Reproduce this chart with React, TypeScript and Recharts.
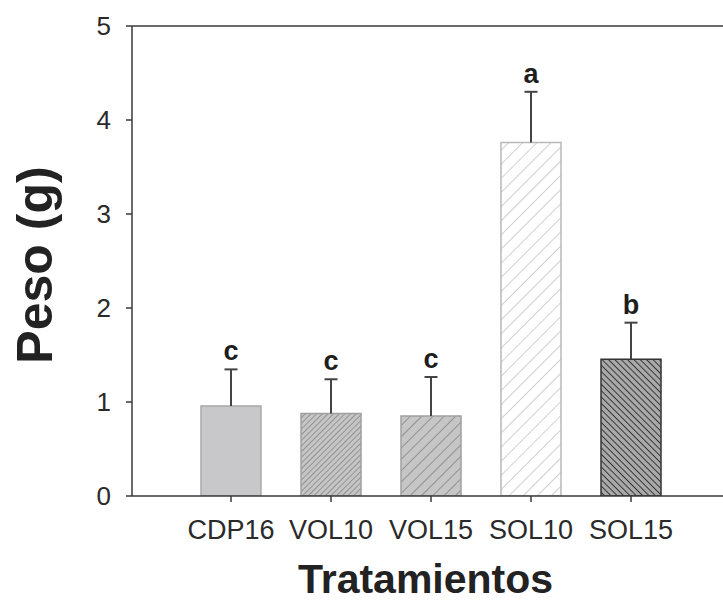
import React from 'react';
import { BarChart, Bar, XAxis, YAxis, Cell, LabelList, ReferenceLine, Label } from 'recharts';

const categories = ['CDP16', 'VOL10', 'VOL15', 'SOL10', 'SOL15'];
const pesoValues = [0.957, 0.877, 0.851, 3.76, 1.454];
const errorValues = [0.39, 0.365, 0.415, 0.54, 0.39];
const letters = ['c', 'c', 'c', 'a', 'b'];
const yTicks = [0, 1, 2, 3, 4, 5];

const fills = ['#c8c8ca', 'url(#patVol10)', 'url(#patVol15)', 'url(#patSol10)', 'url(#patSol15)'];
const strokes = ['#a9a9ab', '#a0a0a0', '#a0a0a0', '#b8b8b8', '#333333'];

const data = categories.map((c, i) => ({ name: c, peso: pesoValues[i], err: errorValues[i], letter: letters[i] }));

const FONT = '"Liberation Sans", Arial, Helvetica, sans-serif';
const AXIS = '#3a3a3a';

const ErrAndLetter = (props: any) => {
  const { x, y, width, height, index } = props;
  const d = data[index];
  if (!d) return null;
  const pxPerUnit = Math.abs(height) / d.peso;
  const cx = x + width / 2;
  const top = y - d.err * pxPerUnit;
  return (
    <g>
      <line x1={cx} y1={y} x2={cx} y2={top} stroke="#444" strokeWidth={2} />
      <line x1={cx - 6.5} y1={top} x2={cx + 6.5} y2={top} stroke="#444" strokeWidth={2} />
      <text x={cx} y={top - 9} textAnchor="middle" fontFamily={FONT} fontWeight="bold" fontSize={27} fill="#1e1e1e">
        {d.letter}
      </text>
    </g>
  );
};

const YTitle = (props: any) => {
  const vb = props.viewBox || { x: 72, y: 26, width: 60, height: 470 };
  const px = vb.x - 20;
  const py = vb.y + vb.height / 2 + 4;
  return (
    <text transform={`translate(${px},${py}) rotate(-90)`} x={0} y={0} textAnchor="middle" fontFamily={FONT} fontWeight="bold" fontSize={50} fill="#222">
      Peso (g)
    </text>
  );
};

const XTitle = (props: any) => {
  const vb = props.viewBox || { x: 132, y: 496, width: 591, height: 56 };
  const px = vb.x + vb.width / 2 - 2;
  const py = vb.y + 97;
  return (
    <text x={px} y={py} textAnchor="middle" fontFamily={FONT} fontWeight="bold" fontSize={41} fill="#222">
      Tratamientos
    </text>
  );
};

export default function App() {
  return (
    <div style={{ position: 'absolute', left: 0, top: 0, width: 723, height: 602, background: '#fff' }}>
      <svg width={0} height={0} style={{ position: 'absolute' }}>
        <defs>
          <pattern id="patVol10" width={4} height={4} patternUnits="userSpaceOnUse" patternTransform="rotate(45)">
            <rect width={4} height={4} fill="#c6c6c6" />
            <line x1={0} y1={0} x2={0} y2={4} stroke="#858585" strokeWidth={1.6} />
          </pattern>
          <pattern id="patVol15" width={8} height={8} patternUnits="userSpaceOnUse" patternTransform="rotate(45)">
            <rect width={8} height={8} fill="#c6c6c6" />
            <line x1={0} y1={0} x2={0} y2={8} stroke="#7a7a7a" strokeWidth={1.4} />
          </pattern>
          <pattern id="patSol10" width={10} height={10} patternUnits="userSpaceOnUse" patternTransform="rotate(45)">
            <rect width={10} height={10} fill="#ffffff" />
            <line x1={0} y1={0} x2={0} y2={10} stroke="#b0b0b0" strokeWidth={1.2} />
          </pattern>
          <pattern id="patSol15" width={4.5} height={4.5} patternUnits="userSpaceOnUse" patternTransform="rotate(-45)">
            <rect width={4.5} height={4.5} fill="#a8a8a8" />
            <line x1={0} y1={0} x2={0} y2={4.5} stroke="#2e2e2e" strokeWidth={1.8} />
          </pattern>
        </defs>
      </svg>
      <BarChart
        width={723}
        height={602}
        data={data}
        margin={{ top: 26, right: 0, left: 72, bottom: 50 }}
        barCategoryGap="20%"
      >
        <ReferenceLine y={5} stroke={AXIS} strokeWidth={1.5} />
        <XAxis
          dataKey="name"
          padding={{ left: 49, right: 42 }}
          height={56}
          tickSize={6}
          tickMargin={18}
          axisLine={{ stroke: AXIS, strokeWidth: 1.5 }}
          tickLine={{ stroke: AXIS, strokeWidth: 1.5 }}
          tick={{ fontFamily: FONT, fontSize: 27, fill: '#2a2a2a' }}
          interval={0}
        >
          <Label content={<XTitle />} />
        </XAxis>
        <YAxis
          domain={[0, 5]}
          ticks={yTicks}
          width={60}
          tickSize={6}
          tickMargin={15}
          axisLine={{ stroke: AXIS, strokeWidth: 1.5 }}
          tickLine={{ stroke: AXIS, strokeWidth: 1.5 }}
          tick={{ fontFamily: FONT, fontSize: 26, fill: '#2a2a2a' }}
          allowDataOverflow
        >
          <Label content={<YTitle />} />
        </YAxis>
        <Bar dataKey="peso" isAnimationActive={false} strokeWidth={1.5}>
          {data.map((d, i) => (
            <Cell key={d.name} fill={fills[i]} stroke={strokes[i]} />
          ))}
          <LabelList dataKey="err" content={<ErrAndLetter />} />
        </Bar>
      </BarChart>
    </div>
  );
}
